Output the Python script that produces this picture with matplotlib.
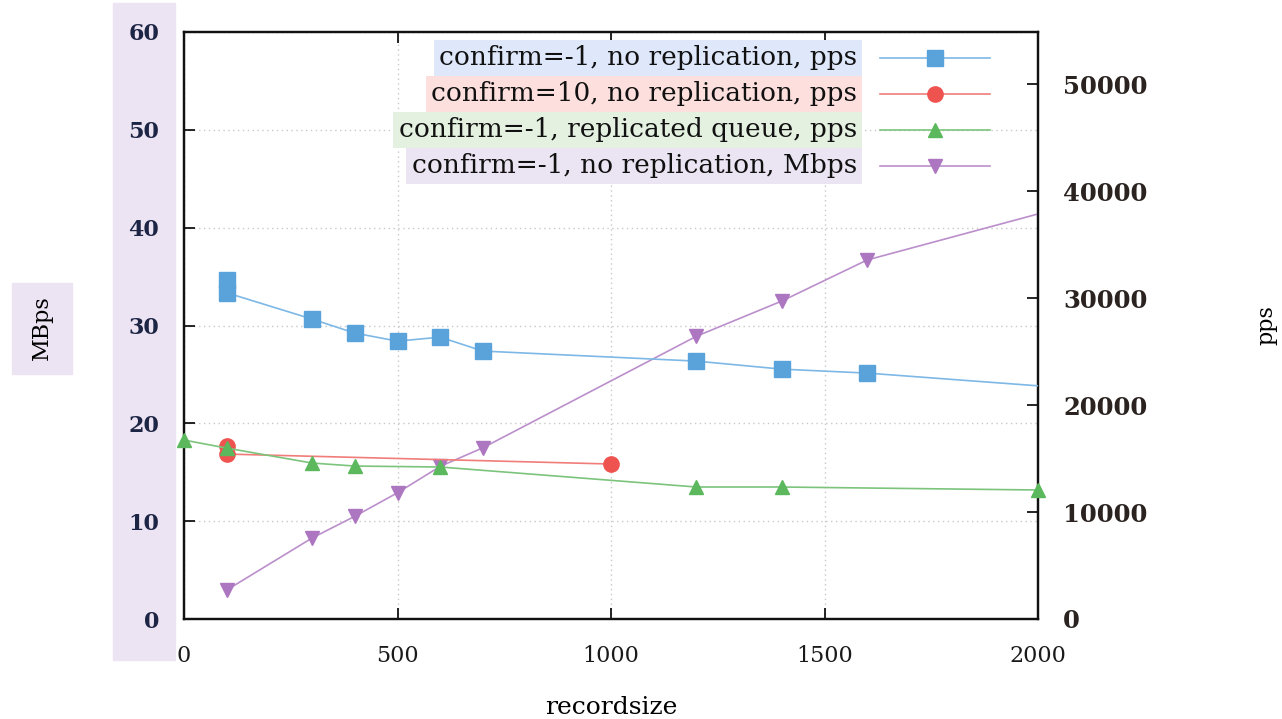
import matplotlib
matplotlib.use("Agg")
import matplotlib.pyplot as plt
from matplotlib.lines import Line2D
from matplotlib.patches import Rectangle

plt.rcParams['font.family'] = ['DejaVu Serif']

# ---- data ----
blue_x = [100, 100, 300, 400, 500, 600, 700, 1200, 1400, 1600, 2000]
blue_pps = [31700, 30500, 28040, 26730, 25980, 26350, 25050, 24110, 23360, 22990, 21800]

red_x = [100, 100, 1000]
red_pps = [16170, 15420, 14490]

green_x = [0, 100, 300, 400, 600, 1200, 1400, 2000]
green_pps = [16730, 15980, 14580, 14300, 14210, 12340, 12340, 12060]

purple_x = [100, 300, 400, 500, 600, 700, 1200, 1400, 1600, 2000]
purple_mbps = [2.96, 8.28, 10.5, 12.9, 15.6, 17.5, 28.9, 32.5, 36.7, 41.4]

labels = ["confirm=-1, no replication, pps",
          "confirm=10, no replication, pps",
          "confirm=-1, replicated queue, pps",
          "confirm=-1, no replication, Mbps"]

x_ticks = [0, 500, 1000, 1500, 2000]
left_ticks = [0, 10, 20, 30, 40, 50, 60]
right_ticks = [0, 10000, 20000, 30000, 40000, 50000]

# ---- style ----
c_blue, c_blue_l = '#5aa3da', '#7db8e6'
c_red, c_red_l = '#ee5350', '#f07d7a'
c_green, c_green_l = '#5cb85c', '#7cc47c'
c_purp, c_purp_l = '#ad76c0', '#bb8fcb'
bg_colors = ['#dfe8fb', '#fde0de', '#e4f1e1', '#ebe4f2']

W, H = 1282, 719
fig = plt.figure(figsize=(W / 100, H / 100), dpi=100)
L, R, T, B = 184, 1038, 32, 619
ax = fig.add_axes([L / W, 1 - B / H, (R - L) / W, (B - T) / H])
ax2 = ax.twinx()

# lavender panels
fig.patches.append(Rectangle((113 / W, 1 - 660 / H), 62 / W, 657 / H,
                             transform=fig.transFigure, color='#ece4f3', zorder=-5))
fig.patches.append(Rectangle((12 / W, 1 - 374 / H), 60 / W, 91 / H,
                             transform=fig.transFigure, color='#ece4f3', zorder=-5))

ax.set_xlim(0, 2000)
ax.set_ylim(0, 60)
ax2.set_ylim(0, 54880)

ax.set_xticks(x_ticks)
ax.set_yticks(left_ticks)
ax2.set_yticks(right_ticks)

ax.grid(True, color='#c8c8c8', linestyle=(0, (1, 2.5)), linewidth=1.0)

ax.plot(purple_x, purple_mbps, color=c_purp_l, lw=1.2, marker='v', ms=10,
        mfc=c_purp, mec=c_purp, markevery=list(range(len(purple_x) - 1)), zorder=3)
ax2.plot(blue_x, blue_pps, color=c_blue_l, lw=1.2, marker='s', ms=11,
         mfc=c_blue, mec=c_blue, markevery=list(range(len(blue_x) - 1)), zorder=3)
ax2.plot(red_x, red_pps, color=c_red_l, lw=1.2, marker='o', ms=11,
         mfc=c_red, mec=c_red, zorder=3)
ax2.plot(green_x, green_pps, color=c_green_l, lw=1.2, marker='^', ms=10,
         mfc=c_green, mec=c_green, zorder=3, clip_on=False)

for a in (ax, ax2):
    for s in a.spines.values():
        s.set_linewidth(1.6)
        s.set_color('#111111')

ax.tick_params(axis='x', direction='in', length=8, width=1.2, top=True, pad=19,
               labelsize=16, labelcolor='#1a1a1a')
ax.tick_params(axis='y', direction='in', length=8, width=1.2, right=False, pad=18,
               labelsize=16, labelcolor='#1d2545')
ax2.tick_params(axis='y', direction='in', length=8, width=1.2, pad=18,
                labelsize=17.5, labelcolor='#2a2320')
for lab in ax.get_yticklabels() + ax2.get_yticklabels():
    lab.set_fontweight('bold')

fig.text(42 / W, 1 - 328 / H, 'MBps', rotation=90, ha='center', va='center', fontsize=16)
fig.text(1266 / W, 1 - 325 / H, 'pps', rotation=90, ha='center', va='center', fontsize=16)
fig.text(611 / W, 1 - 707 / H, 'recordsize', ha='center', va='center', fontsize=18)

# legend (manual, gnuplot-like)
rows_y = [58, 94, 130, 166]
styles = [(c_blue_l, c_blue, 's', 11), (c_red_l, c_red, 'o', 11),
          (c_green_l, c_green, '^', 10), (c_purp_l, c_purp, 'v', 10)]
for lab, yy, bg, (lc, mc, mk, ms) in zip(labels, rows_y, bg_colors, styles):
    yf = (B - yy) / (B - T)
    ax2.text((857 - L) / (R - L), yf, lab, transform=ax2.transAxes, ha='right',
             va='center', fontsize=19, color='#111111', zorder=6,
             bbox=dict(boxstyle='square,pad=0.2', fc=bg, ec='none'))
    ax2.add_line(Line2D([(880 - L) / (R - L), (990 - L) / (R - L)], [yf, yf],
                        transform=ax2.transAxes, color=lc, lw=1.2, zorder=6))
    ax2.add_line(Line2D([(935 - L) / (R - L)], [yf], transform=ax2.transAxes,
                        marker=mk, ms=ms, mfc=mc, mec=mc, lw=0, zorder=6))

fig.savefig('out.png', dpi=100)
